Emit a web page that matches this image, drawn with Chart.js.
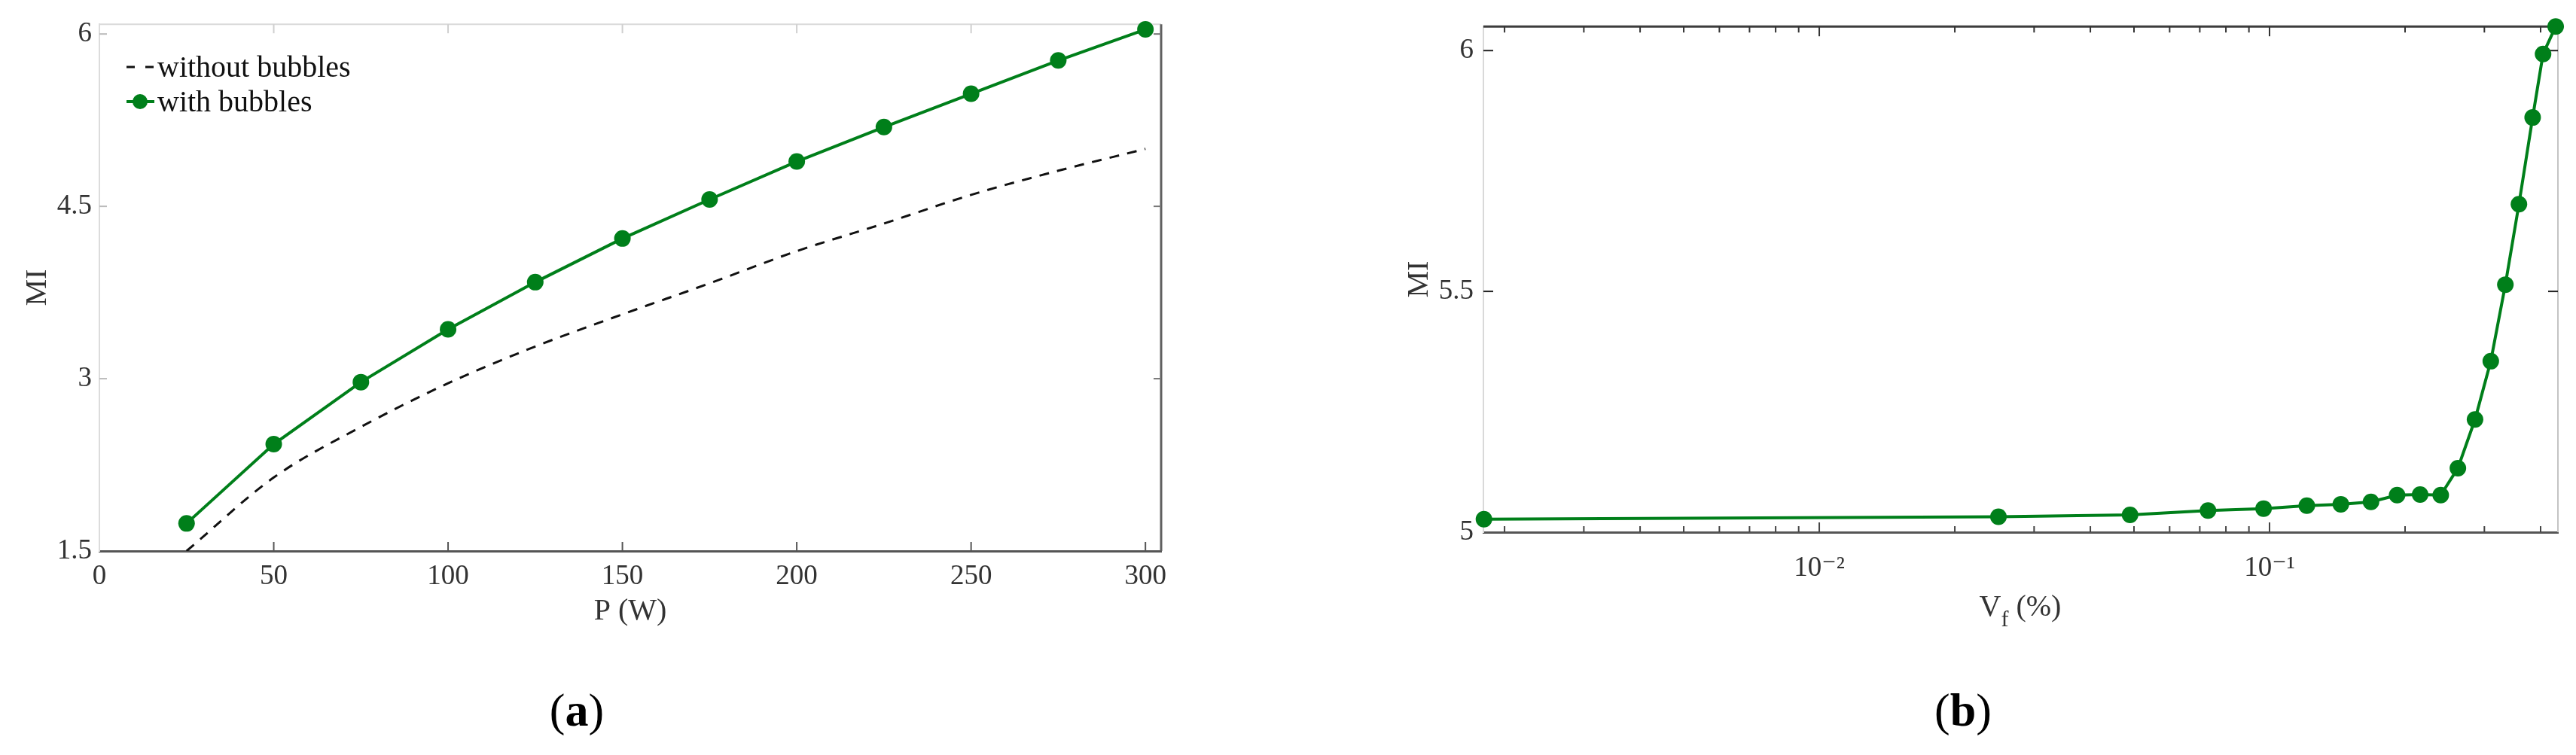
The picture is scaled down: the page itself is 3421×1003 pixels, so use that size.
<!DOCTYPE html>
<html>
<head>
<meta charset="utf-8">
<title>MI vs P and Vf</title>
<script src="https://cdn.jsdelivr.net/npm/chart.js@4.4.1/dist/chart.umd.min.js"></script>
<style>
  html, body { margin: 0; padding: 0; background: #fff; }
  body { position: relative; width: 3421px; height: 1003px; overflow: hidden;
         font-family: "Liberation Serif", "Times New Roman", serif; color: #222; }
  .panel { position: absolute; top: 0; height: 880px; }
  #panelA { left: 0; width: 1650px; }
  #panelB { left: 1700px; width: 1721px; }
  .legend { position: absolute; left: 168px; top: 66px; font-size: 40px; color: #111; }
  .legend .row { height: 46px; line-height: 46px; white-space: nowrap; }
  .legend svg { vertical-align: top; }
  .xtitle { position: absolute; font-size: 40px; line-height: 40px; color: #333;
            transform: translateX(-50%); white-space: nowrap; }
  .xtitle .sub { font-size: 30px; position: relative; top: 14px; }
  .caption { position: absolute; top: 943px; font-size: 62px; line-height: 62px;
             transform: translate(-50%, -50%); color: #000; white-space: nowrap; }
</style>
</head>
<body>
<div id="panelA" class="panel"><canvas id="chartA"></canvas></div>
<div id="panelB" class="panel"><canvas id="chartB"></canvas></div>
<div id="legendA" class="legend"></div>
<div class="xtitle" style="left:2683px; top:785px">V<span class="sub">f</span> (%)</div>
<div class="caption" style="left:766px">(<b>a</b>)</div>
<div class="caption" style="left:2607px">(<b>b</b>)</div>

<script>
// panel (a): MI against power
const pWatts = [25, 50, 75, 100, 125, 150, 175, 200, 225, 250, 275, 300];
const miWithBubbles = [1.74, 2.43, 2.97, 3.43, 3.84, 4.22, 4.56, 4.89, 5.19, 5.48, 5.77, 6.04];
const miWithoutBubbles = [1.5, 2.14, 2.58, 2.96, 3.28, 3.56, 3.83, 4.11, 4.35, 4.60, 4.81, 5.00];
const pTicks = [0, 50, 100, 150, 200, 250, 300];
const miTicksA = [1.5, 3, 4.5, 6];
const miTickLabelsA = ['1.5', '3', '4.5', '6'];

// panel (b): MI against bubble volume fraction
const vfPercent = [0.0018, 0.025, 0.049, 0.073, 0.097, 0.121, 0.144, 0.168, 0.192, 0.216,
                   0.240, 0.262, 0.286, 0.310, 0.334, 0.358, 0.384, 0.405, 0.432];
const miVf = [5.027, 5.032, 5.036, 5.045, 5.049, 5.055, 5.058, 5.063, 5.077, 5.078,
              5.077, 5.133, 5.234, 5.355, 5.514, 5.681, 5.861, 5.993, 6.05];
const vfMajorTicks = [0.01, 0.1];
const vfTickLabels = ['10\u207B\u00B2', '10\u207B\u00B9'];
const miTicksB = [5, 5.5, 6];
const miTickLabelsB = ['5', '5.5', '6'];

const GREEN = '#007f1a';

Chart.defaults.font.family = "'Liberation Serif', 'DejaVu Serif', serif";
Chart.defaults.color = '#333';
Chart.defaults.animation = false;

function points(xs, ys) {
    return xs.map((x, i) => ({ x: x, y: ys[i] }));
}

function setTicks(values, majors) {
    return function (scale) {
        scale.ticks = values.map(v => ({ value: v, major: majors ? majors.indexOf(v) >= 0 : false }));
    };
}

// minor ticks of the log axis: 2..9 of each decade
var vfAllTicks = vfMajorTicks.slice();
[0.001, 0.01, 0.1].forEach(function (d) {
    for (var k = 2; k <= 9; k++) {
        if (k * d > 0.0018 && k * d < 0.437) vfAllTicks.push(k * d);
    }
});
vfAllTicks.sort((a, b) => a - b);

// top / right edges and the inward tick marks
const framePlugin = {
    id: 'frame',
    beforeDatasetsDraw(chart, args, o) {
        const { ctx, chartArea: a } = chart;
        const xs = chart.scales.x, ys = chart.scales.y;
        const seg = (x1, y1, x2, y2, color, w) => {
            ctx.strokeStyle = color;
            ctx.lineWidth = w;
            ctx.beginPath();
            ctx.moveTo(x1, y1);
            ctx.lineTo(x2, y2);
            ctx.stroke();
        };
        ctx.save();
        seg(a.left, a.top, a.right, a.top, o.topColor, o.topWidth);
        seg(a.right, a.top, a.right, a.bottom, o.rightColor, o.rightWidth);
        xs.ticks.forEach(t => {
            const px = xs.getPixelForValue(t.value);
            if (px <= a.left + 2 || px >= a.right - 2) return;
            const len = t.major ? o.majorLen : o.minorLen;
            seg(px, a.bottom, px, a.bottom - len, o.bottomTick, 2);
            seg(px, a.top, px, a.top + len, o.topTick, 2);
        });
        ys.ticks.forEach(t => {
            const py = ys.getPixelForValue(t.value);
            if (py >= a.bottom - 2 || py <= a.top + 2) return;
            seg(a.left, py, a.left + o.yLen, py, o.leftTick, 2);
            seg(a.right, py, a.right - o.yLen, py, o.rightTick, 2);
        });
        ctx.restore();
    }
};

const chartA = new Chart(document.getElementById('chartA'), {
    type: 'line',
    data: {
        datasets: [
            {
                label: 'without bubbles',
                data: points(pWatts, miWithoutBubbles),
                borderColor: '#111',
                borderWidth: 3,
                borderDash: [13, 11],
                pointRadius: 0,
                cubicInterpolationMode: 'monotone',
                fill: false
            },
            {
                label: 'with bubbles',
                data: points(pWatts, miWithBubbles),
                borderColor: GREEN,
                backgroundColor: GREEN,
                borderWidth: 4,
                pointRadius: 11,
                pointBackgroundColor: GREEN,
                pointBorderWidth: 0,
                tension: 0,
                clip: false
            }
        ]
    },
    options: {
        responsive: true,
        maintainAspectRatio: false,
        layout: { padding: { left: 0, top: 32, right: 108, bottom: 0 } },
        plugins: {
            legend: { display: false },
            tooltip: { enabled: false },
            frame: {
                topColor: '#dadada', topWidth: 2, rightColor: '#606060', rightWidth: 3,
                majorLen: 12, minorLen: 12, yLen: 10,
                bottomTick: '#555', topTick: '#cfcfcf', leftTick: '#bbb', rightTick: '#777'
            }
        },
        scales: {
            x: {
                type: 'linear', min: 0, max: 304.5, bounds: 'data',
                afterBuildTicks: setTicks(pTicks),
                afterFit: s => { s.height = 148; },
                grid: { display: false, drawTicks: false },
                border: { display: true, color: '#555', width: 3 },
                ticks: { padding: 12, autoSkip: false, maxRotation: 0, font: { size: 37 },
                         callback: v => String(v) },
                title: { display: true, text: 'P (W)', color: '#333', font: { size: 40 },
                         padding: { top: 0, bottom: 44 } }
            },
            y: {
                type: 'linear', min: 1.5, max: 6.085, bounds: 'data',
                afterBuildTicks: setTicks(miTicksA),
                afterFit: s => { s.width = 132; },
                grid: { display: false, drawTicks: false },
                border: { display: true, color: '#dcdcdc', width: 2 },
                ticks: { padding: 10, font: { size: 37 },
                         callback: (v, i) => miTickLabelsA[i] },
                title: { display: true, text: 'MI', color: '#333', font: { size: 40 },
                         padding: { top: 26, bottom: 0 } }
            }
        }
    },
    plugins: [framePlugin]
});

const chartB = new Chart(document.getElementById('chartB'), {
    type: 'line',
    data: {
        datasets: [{
            label: 'MI',
            data: points(vfPercent, miVf),
            borderColor: GREEN,
            backgroundColor: GREEN,
            borderWidth: 4,
            pointRadius: 11,
            pointBackgroundColor: GREEN,
            pointBorderWidth: 0,
            tension: 0,
            clip: false
        }]
    },
    options: {
        responsive: true,
        maintainAspectRatio: false,
        layout: { padding: { left: 0, top: 31, right: 24, bottom: 0 } },
        plugins: {
            legend: { display: false },
            tooltip: { enabled: false },
            frame: {
                topColor: '#3c3c3c', topWidth: 3, rightColor: '#c4c4c4', rightWidth: 2,
                majorLen: 13, minorLen: 8, yLen: 13,
                bottomTick: '#444', topTick: '#333', leftTick: '#222', rightTick: '#222'
            }
        },
        scales: {
            x: {
                type: 'logarithmic', min: 0.001795, max: 0.437, bounds: 'data',
                afterBuildTicks: setTicks(vfAllTicks, vfMajorTicks),
                afterFit: s => { s.height = 173; },
                grid: { display: false, drawTicks: false },
                border: { display: true, color: '#555', width: 3 },
                ticks: { padding: 26, autoSkip: false, maxRotation: 0, minRotation: 0,
                         font: { size: 37 },
                         callback: v => {
                             const i = vfMajorTicks.indexOf(v);
                             return i >= 0 ? vfTickLabels[i] : '';
                         } }
            },
            y: {
                type: 'linear', min: 5, max: 6.05, bounds: 'data',
                afterBuildTicks: setTicks(miTicksB),
                afterFit: s => { s.width = 270; },
                grid: { display: false, drawTicks: false },
                border: { display: true, color: '#d9d9d9', width: 2 },
                ticks: { padding: 13, font: { size: 37 },
                         callback: (v, i) => miTickLabelsB[i] },
                title: { display: true, text: 'MI', color: '#333', font: { size: 40 },
                         padding: { top: 161, bottom: 0 } }
            }
        }
    },
    plugins: [framePlugin]
});

// legend of panel (a), built from the datasets
(function buildLegend() {
    const box = document.getElementById('legendA');
    chartA.data.datasets.forEach(ds => {
        const row = document.createElement('div');
        row.className = 'row';
        let sample;
        if (ds.borderDash) {
            sample = '<svg width="41" height="46"><line x1="0" y1="23" x2="37" y2="23" stroke="' +
                ds.borderColor + '" stroke-width="3" stroke-dasharray="11 14"/></svg>';
        } else {
            sample = '<svg width="41" height="46"><line x1="0" y1="23" x2="37" y2="23" stroke="' +
                ds.borderColor + '" stroke-width="4"/><circle cx="18" cy="23" r="10" fill="' +
                ds.pointBackgroundColor + '"/></svg>';
        }
        row.innerHTML = sample + '<span>' + ds.label + '</span>';
        box.appendChild(row);
    });
})();
</script>
</body>
</html>
